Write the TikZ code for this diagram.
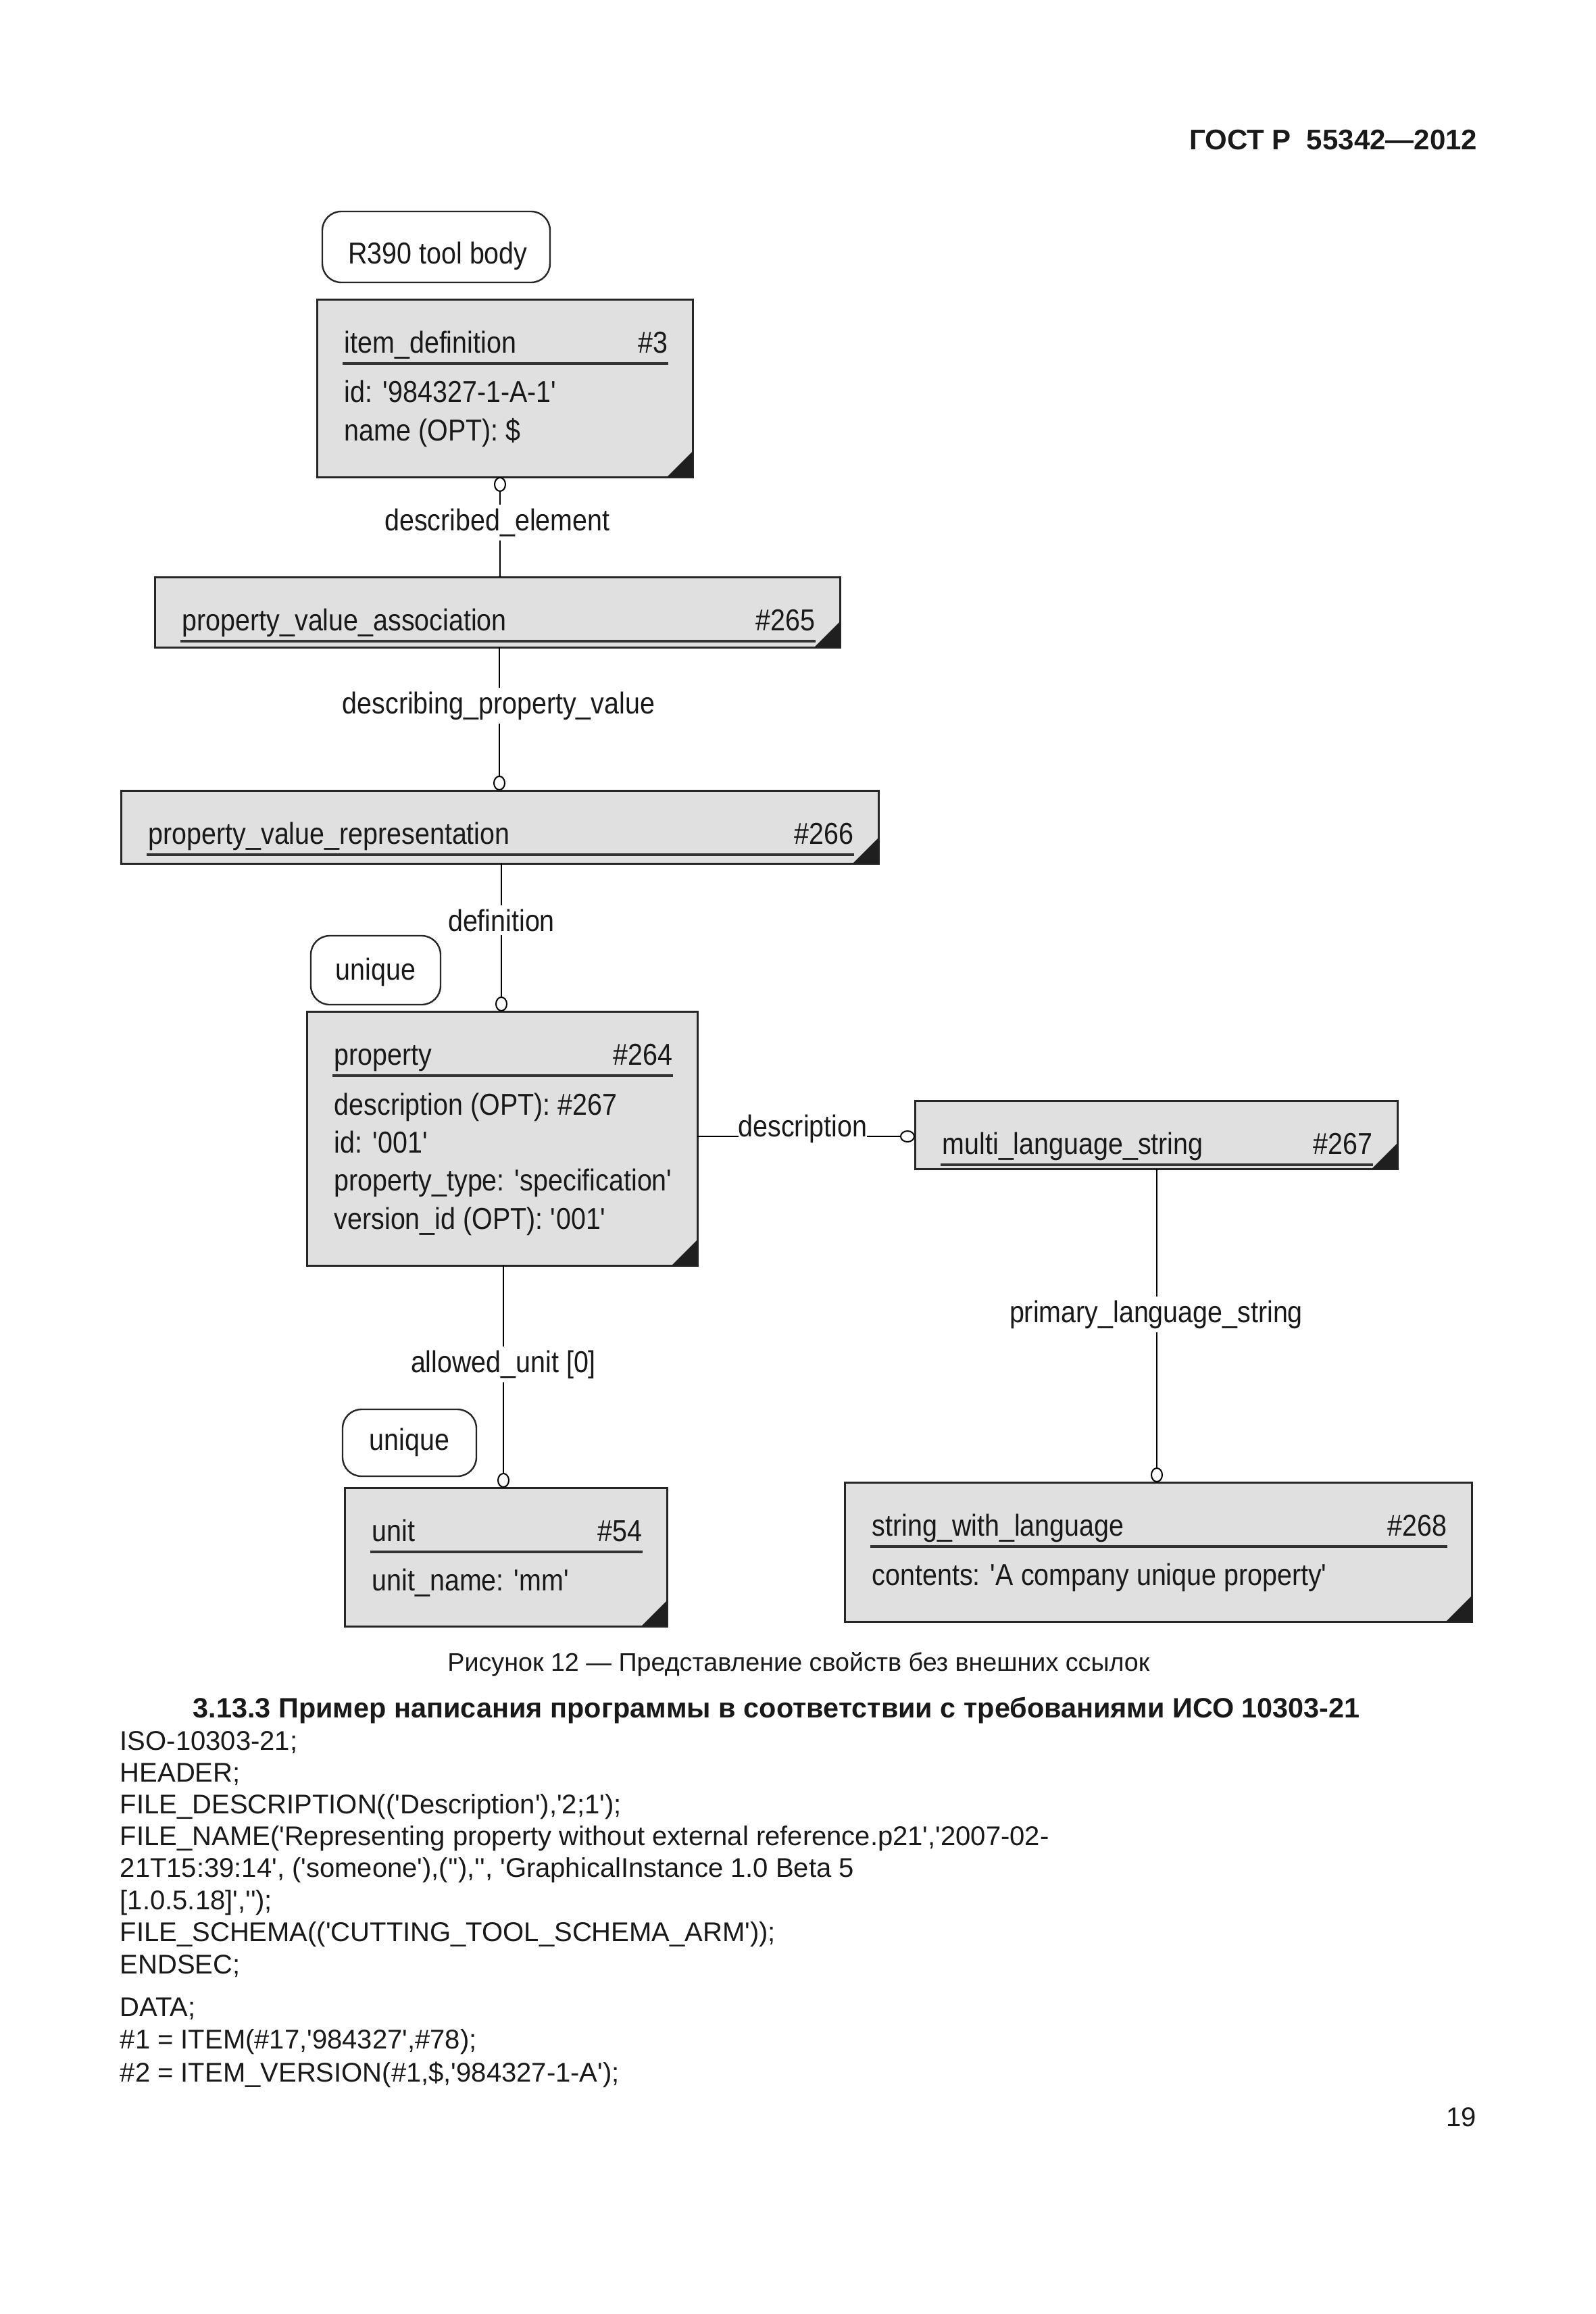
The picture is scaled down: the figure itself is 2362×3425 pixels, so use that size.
\documentclass[tikz,border=0pt]{standalone}
\usepackage{fontspec}
\setmainfont{Liberation Sans}
\newfontfamily\dgfont[FakeStretch=0.88]{Liberation Sans}
\usetikzlibrary{calc,arrows.meta}
\newcommand{\qq}{\textquotesingle}
\tikzset{
  entbox/.style={draw=black!85, line width=0.75pt, fill=black!12, rectangle, inner sep=0pt, outer sep=0pt, anchor=north west},
  cornertri/.style={fill=black!88},
  ulinestyle/.style={draw=black!80, line width=1pt},
  dtxt/.style={font=\dgfont\fontsize{11.2}{13}\selectfont, inner sep=0pt, text=black!90},
  ttlst/.style={dtxt, anchor=base west},
  numst/.style={dtxt, anchor=base east},
  attrst/.style={dtxt, anchor=base west},
  tagbox/.style={draw=black!85, line width=0.6pt, fill=white, rounded corners=7pt, inner sep=0pt, outer sep=0pt, anchor=north west},
  connst/.style={draw=black, line width=0.5pt},
  >={Circle[open,length=5.5pt,width=4.5pt]},
  rlabst/.style={dtxt, fill=white, anchor=base, inner xsep=0pt, inner ysep=1.5pt},
  bodytext/.style={font=\fontsize{10}{12}\selectfont, inner sep=0pt, anchor=base west, text=black!90},
}
\newcommand{\entity}[7]{%
  \node[entbox, minimum width=#4*0.25pt, minimum height=#5*0.25pt] (#1) at (#2,#3) {};
  \fill[cornertri] ($(#1.south east)+(0,-38)$) -- (#1.south east) -- ($(#1.south east)+(-38,0)$) -- cycle;
  \node[ttlst] (#1-t) at ($(#1.north west)+(40,79)$) {#6};
  \node[numst] (#1-n) at ($(#1.north east)+(-36,79)$) {#7};
  \draw[ulinestyle] ($(#1.north west)+(38,95)$) -- ($(#1.north east)+(-36,95)$);
}
\begin{document}
\begin{tikzpicture}[x=0.25pt, y=-0.25pt]
\fill[white] (0,0) rectangle (2362,3425);
\useasboundingbox (0,0) rectangle (2362,3425);

% header
\node[font=\bfseries\fontsize{10.5}{12}\selectfont, anchor=base east, inner sep=0pt, text=black!90] (hdr) at (2187,222) {ГОСТ Р~~55342—2012};

% tags
\node[tagbox, minimum width=337*0.25pt, minimum height=105*0.25pt] (tagR) at (477,313) {};
\node[dtxt, anchor=base] (tagRt) at (648,390) {R390 tool body};
\node[tagbox, minimum width=192*0.25pt, minimum height=102*0.25pt] (tagU1) at (460,1385) {};
\node[dtxt, anchor=base] (tagU1t) at (556,1450) {unique};
\node[tagbox, minimum width=198*0.25pt, minimum height=99*0.25pt] (tagU2) at (507,2086) {};
\node[dtxt, anchor=base] (tagU2t) at (606,2146) {unique};

% entities
\entity{idef}{469}{443}{556}{263}{item\_definition}{\#3}
\node[attrst] (idef-a1) at ($(idef.north west)+(40,152)$) {id: \qq 984327-1-A-1\qq};
\node[attrst] (idef-a2) at ($(idef.north west)+(40,209)$) {name (OPT): \$};

\entity{pva}{229}{854}{1014}{104}{property\_value\_association}{\#265}
\entity{pvr}{179}{1170}{1121}{108}{property\_value\_representation}{\#266}

\entity{prop}{454}{1497}{578}{376}{property}{\#264}
\node[attrst] (prop-a1) at ($(prop.north west)+(40,153)$) {description (OPT): \#267};
\node[attrst] (prop-a2) at ($(prop.north west)+(40,209)$) {id: \qq 001\qq};
\node[attrst] (prop-a3) at ($(prop.north west)+(40,265)$) {property\_type: \qq specification\qq};
\node[attrst] (prop-a4) at ($(prop.north west)+(40,322)$) {version\_id (OPT): \qq 001\qq};

\entity{mls}{1354}{1629}{714}{101}{multi\_language\_string}{\#267}

\entity{unit}{510}{2202}{477}{205}{unit}{\#54}
\node[attrst] (unit-a1) at ($(unit.north west)+(40,152)$) {unit\_name: \qq mm\qq};

\entity{swl}{1250}{2194}{928}{206}{string\_with\_language}{\#268}
\node[attrst] (swl-a1) at ($(swl.north west)+(40,152)$) {contents: \qq A company unique property\qq};

% connector columns
\coordinate (cx1) at (740,0);
\coordinate (cx2) at (739,0);
\coordinate (cx3) at (742,0);
\coordinate (cx4) at (745,0);
\coordinate (cx5) at (1712,0);
\coordinate (cy1) at (0,1682);

\draw[connst,<-] (idef.south -| cx1) -- (pva.north -| cx1);
\node[rlabst] (l1) at (736,785) {described\_element};

\draw[connst,->] (pva.south -| cx2) -- (pvr.north -| cx2);
\node[rlabst] (l2) at (738,1056) {describing\_property\_value};

\draw[connst,->] (pvr.south -| cx3) -- (prop.north -| cx3);
\node[rlabst] (l3) at (742,1378) {definition};

\draw[connst,->] (prop.east |- cy1) -- (mls.west |- cy1);
\node[rlabst, inner ysep=0.5pt] (l4) at (1188,1682) {description};

\draw[connst,->] (prop.south -| cx4) -- (unit.north -| cx4);
\node[rlabst] (l5) at (745,2031) {allowed\_unit [0]};

\draw[connst,->] (mls.south -| cx5) -- (swl.north -| cx5);
\node[rlabst] (l6) at (1711,1957) {primary\_language\_string};

% caption and text
\node[bodytext, anchor=base, font=\fontsize{9.42}{11}\selectfont] (cap) at (1182,2473) {Рисунок 12 — Представление свойств без внешних ссылок};
\node[bodytext, font=\bfseries\fontsize{10.35}{12}\selectfont] (h1) at (285,2542) {3.13.3 Пример написания программы в соответствии с требованиями ИСО 10303-21};
\node[bodytext] (c1) at (177,2590) {ISO-10303-21;};
\node[bodytext] (c2) at (177,2637) {HEADER;};
\node[bodytext] (c3) at (177,2684) {FILE\_DESCRIPTION((\qq Description\qq),\qq 2;1\qq);};
\node[bodytext] (c4) at (177,2731) {FILE\_NAME(\qq Representing property without external reference.p21\qq,\qq 2007-02-};
\node[bodytext] (c5) at (177,2778) {21T15:39:14\qq, (\qq someone\qq),(\qq\qq),\qq\qq, \qq GraphicalInstance 1.0 Beta 5};
\node[bodytext] (c6) at (177,2826) {[1.0.5.18]\qq,\qq\qq);};
\node[bodytext] (c7) at (177,2873) {FILE\_SCHEMA((\qq CUTTING\_TOOL\_SCHEMA\_ARM\qq));};
\node[bodytext] (c8) at (177,2921) {ENDSEC;};
\node[bodytext] (c9) at (177,2984) {DATA;};
\node[bodytext] (c10) at (177,3032) {\#1 = ITEM(\#17,\qq 984327\qq,\#78);};
\node[bodytext] (c11) at (177,3081) {\#2 = ITEM\_VERSION(\#1,\$,\qq 984327-1-A\qq);};
\node[bodytext, anchor=base east] (pg) at (2186,3147) {19};
\end{tikzpicture}
\end{document}
